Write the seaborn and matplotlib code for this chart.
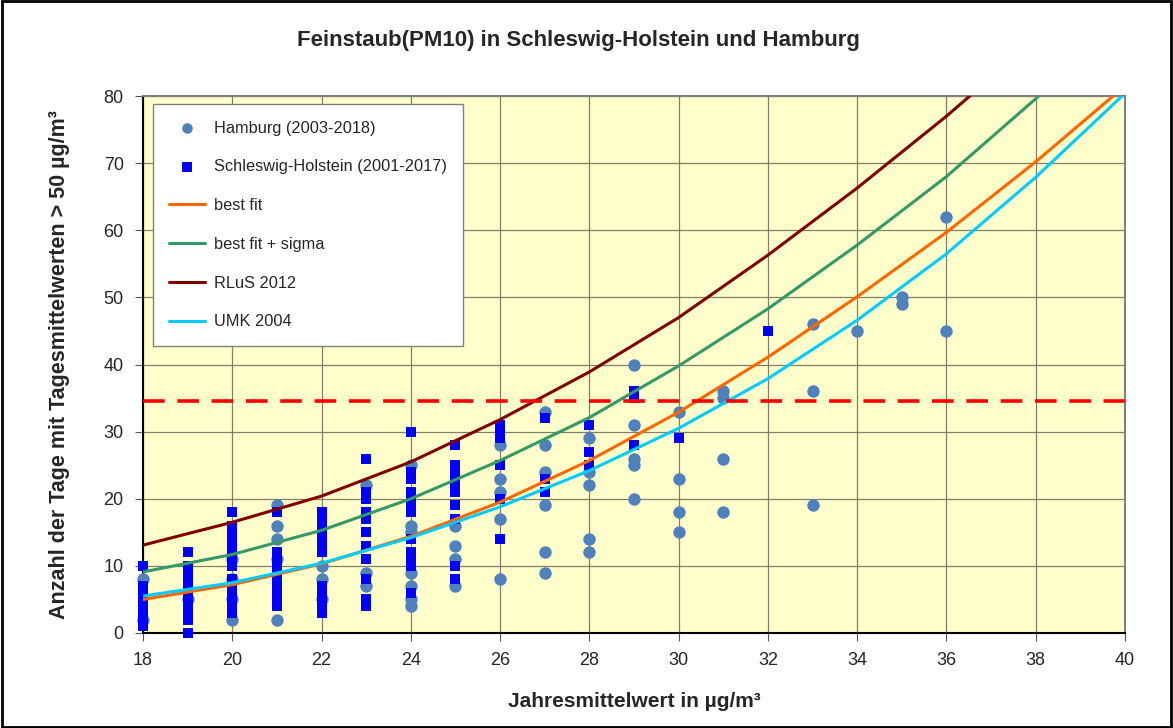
import matplotlib
matplotlib.use("Agg")
import matplotlib.pyplot as plt
import seaborn as sns
import pandas as pd
from matplotlib.patches import Rectangle

# ── Data ─────────────────────────────────────────────────────────────────────
hh_x = [18, 18, 19, 20, 20, 20, 20, 21, 21, 21, 21, 21, 22, 22, 22,
        23, 23, 23, 24, 24, 24, 24, 24, 24, 24, 25, 25, 25, 25,
        26, 26, 26, 26, 26, 27, 27, 27, 27, 27, 27, 28, 28, 28, 28, 28,
        29, 29, 29, 29, 29, 30, 30, 30, 30, 31, 31, 31, 31,
        33, 33, 33, 34, 35, 35, 36, 36]
hh_y = [8, 2, 5, 11, 8, 5, 2, 19, 16, 14, 11, 2, 10, 8, 5,
        22, 9, 7, 25, 16, 15, 9, 7, 5, 4, 16, 13, 11, 7,
        28, 23, 21, 17, 8, 33, 28, 24, 19, 12, 9, 29, 24, 22, 14, 12,
        40, 31, 26, 25, 20, 33, 23, 18, 15, 36, 35, 26, 18,
        46, 36, 19, 45, 50, 49, 62, 45]

sh_x = [18] * 8 + [19] * 11 + [20] * 14 + [21] * 10 + [22] * 12 + [23] * 11 \
     + [24] * 12 + [25] * 10 + [26] * 6 + [27] * 3 + [28] * 3 + [29] * 3 + [30, 32]
sh_y = [10, 7, 6, 5, 4, 3, 2, 1,
        12, 10, 9, 8, 7, 6, 5, 4, 3, 2, 0,
        18, 16, 15, 14, 13, 12, 11, 10, 8, 7, 6, 5, 4, 3,
        18, 12, 11, 10, 9, 8, 7, 6, 5, 4,
        18, 17, 16, 15, 14, 13, 12, 7, 6, 5, 4, 3,
        26, 21, 20, 18, 17, 15, 13, 11, 8, 5, 4,
        30, 24, 23, 21, 20, 19, 18, 14, 12, 11, 10, 6,
        28, 25, 24, 23, 22, 21, 19, 17, 10, 8,
        31, 30, 29, 25, 20, 14,
        32, 23, 21,
        31, 27, 25,
        36, 35, 28,
        29, 45]

curve_x = [18, 20, 22, 24, 26, 28, 30, 32, 34, 36, 38, 40]
best_fit = [5.0, 7.2, 10.3, 14.4, 19.5, 25.7, 32.9, 41.1, 50.1, 59.7, 70.2, 81.5]
best_fit_sigma = [9.1, 11.7, 15.3, 20.0, 25.7, 32.1, 39.8, 48.3, 57.8, 68.0, 79.6, 92.0]
rlus_2012 = [13.1, 16.5, 20.4, 25.5, 31.8, 38.9, 47.0, 56.3, 66.3, 77.0, 88.5, 100.5]
umk_2004 = [5.5, 7.5, 10.4, 14.2, 18.8, 24.2, 30.5, 37.9, 46.6, 56.5, 67.9, 80.4]

limit_days = 34.5

curves = [
    ("best fit", best_fit, "#FF6600"),
    ("best fit + sigma", best_fit_sigma, "#339966"),
    ("RLuS 2012", rlus_2012, "#800000"),
    ("UMK 2004", umk_2004, "#00CCFF"),
]

# ── Style ────────────────────────────────────────────────────────────────────
sns.set_style("ticks")
plt.rcParams["font.family"] = ["Liberation Sans", "DejaVu Sans"]

fig = plt.figure(figsize=(11.73, 7.28), dpi=100)
ax = fig.add_axes([0.122, 0.1305, 0.837, 0.7375])
ax.set_facecolor("#FFFFCC")

hh_df = pd.DataFrame({"x": hh_x, "y": hh_y})
sh_df = pd.DataFrame({"x": sh_x, "y": sh_y})

sns.scatterplot(data=hh_df, x="x", y="y", ax=ax, marker="o", s=80,
                color="#4F81BD", linewidth=0, label="Hamburg (2003-2018)",
                zorder=3, clip_on=False)
sns.scatterplot(data=sh_df, x="x", y="y", ax=ax, marker="s", s=62,
                color="#0000FF", linewidth=0, label="Schleswig-Holstein (2001-2017)",
                zorder=4, clip_on=False)

for name, vals, col in curves:
    cdf = pd.DataFrame({"x": curve_x, "y": vals})
    sns.lineplot(data=cdf, x="x", y="y", ax=ax, color=col, lw=2.2,
                 label=name, estimator=None, sort=True, zorder=5)

ax.axhline(limit_days, color="#FF0000", lw=2.6, ls=(0, (6, 3.5)), zorder=6)

ax.set_xlim(18, 40)
ax.set_ylim(0, 80)
ax.set_xticks(range(18, 41, 2))
ax.set_yticks(range(0, 81, 10))
ax.grid(True, color="#7F7F6A", lw=0.9)
ax.set_axisbelow(True)
ax.tick_params(axis="both", labelsize=13, direction="out", length=6, color="#555555", pad=8)

for side in ["left", "bottom"]:
    ax.spines[side].set_color("black")
    ax.spines[side].set_linewidth(1.5)
for side in ["top", "right"]:
    ax.spines[side].set_color("#808080")
    ax.spines[side].set_linewidth(1.5)

ax.set_xlabel("Jahresmittelwert in µg/m³", fontsize=15, fontweight="bold", labelpad=16)
ax.set_ylabel("Anzahl der Tage mit Tagesmittelwerten > 50 µg/m³", fontsize=15.5,
              fontweight="bold", labelpad=24)
fig.suptitle("Feinstaub(PM10) in Schleswig-Holstein und Hamburg", x=0.493, y=0.945,
             va="center", fontsize=16, fontweight="bold")

leg = ax.legend(loc="upper left", bbox_to_anchor=(0.01, 0.985), fontsize=11.8,
                labelspacing=1.45, handlelength=2.2, handletextpad=0.5, borderpad=1.0,
                frameon=True, fancybox=False, edgecolor="#808080",
                borderaxespad=0.0, markerscale=0.85)
leg.get_frame().set_linewidth(1.0)
leg.get_frame().set_facecolor("white")
leg.get_frame().set_alpha(1.0)

fig.patches.append(Rectangle((0.002, 0.002), 0.996, 0.996, transform=fig.transFigure,
                             fill=False, edgecolor="black", lw=2))

fig.savefig("out.png", dpi=100)
